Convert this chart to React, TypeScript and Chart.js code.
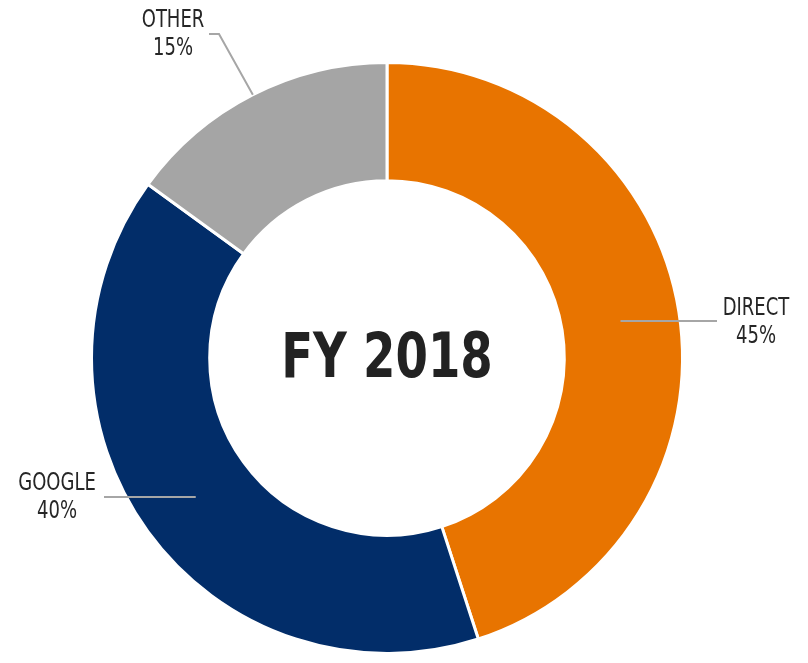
import React, { useEffect, useRef } from "react";
import { Chart, registerables } from "chart.js";

Chart.register(...registerables);

const categories = ["DIRECT", "GOOGLE", "OTHER"];
const values = [45, 40, 15];
const colors = ["#E87400", "#022D69", "#A5A5A5"];
const centerTitle = "FY 2018";

const FONT = "'DejaVu Sans', sans-serif";

// label placement: anchor on ring (fraction of ring thickness from inner), leader path, text box
const labelLayout = [
  { anchor: 0.5, path: [[717, 0]], text: [756, -12], horizontal: true },
  { anchor: 0.5, path: [[104, 0]], text: [57, -13], horizontal: true },
  { anchor: 1.0, path: [[219, 34], [209, 34]], text: [173, 21], horizontal: false },
];

function squeezedText(ctx: any, text: string, x: number, y: number, sx: number) {
  ctx.save();
  ctx.translate(x, y);
  ctx.scale(sx, 1);
  ctx.fillText(text, 0, 0);
  ctx.restore();
}

const labelPlugin = {
  id: "labelPlugin",
  afterDatasetsDraw(chart: any) {
    const ctx = chart.ctx;
    const meta = chart.getDatasetMeta(0);
    const total = values.reduce((a, b) => a + b, 0);
    ctx.save();
    meta.data.forEach((arc: any, i: number) => {
      const { x, y, startAngle, endAngle, innerRadius, outerRadius } = arc.getProps(
        ["x", "y", "startAngle", "endAngle", "innerRadius", "outerRadius"],
        true
      );
      const mid = (startAngle + endAngle) / 2;
      const L = labelLayout[i];
      const r = innerRadius + (outerRadius - innerRadius) * L.anchor;
      const ax = x + Math.cos(mid) * r;
      const ay = y + Math.sin(mid) * r;
      ctx.strokeStyle = "#A6A6A6";
      ctx.lineWidth = 2;
      ctx.beginPath();
      ctx.moveTo(ax, ay);
      let tx: number, ty: number;
      if (L.horizontal) {
        ctx.lineTo(L.path[0][0], ay);
        tx = L.text[0];
        ty = ay + L.text[1];
      } else {
        L.path.forEach((p) => ctx.lineTo(p[0], p[1]));
        tx = L.text[0];
        ty = L.text[1];
      }
      ctx.stroke();
      ctx.fillStyle = "#262626";
      ctx.font = `24px ${FONT}`;
      ctx.textAlign = "center";
      ctx.textBaseline = "middle";
      squeezedText(ctx, categories[i], tx, ty, 0.75);
      squeezedText(ctx, Math.round((values[i] / total) * 100) + "%", tx, ty + 28, 0.75);
    });
    // center title
    const a0 = meta.data[0];
    ctx.fillStyle = "#222222";
    ctx.font = `bold 63px ${FONT}`;
    ctx.textAlign = "center";
    ctx.textBaseline = "middle";
    squeezedText(ctx, centerTitle, a0.x, a0.y + 3, 0.74);
    ctx.restore();
  },
};

export default function App() {
  const ref = useRef<HTMLCanvasElement>(null);
  useEffect(() => {
    if (!ref.current) return;
    const chart = new Chart(ref.current, {
      type: "doughnut",
      data: {
        labels: categories,
        datasets: [
          {
            data: values,
            backgroundColor: colors,
            borderColor: "#FFFFFF",
            borderWidth: 3,
            hoverOffset: 0,
          },
        ],
      },
      options: {
        animation: false,
        responsive: false,
        cutout: "60%",
        layout: { padding: { top: 61, bottom: 8, left: 90, right: 124 } },
        plugins: {
          legend: { display: false },
          tooltip: { enabled: false },
        },
      },
      plugins: [labelPlugin],
    });
    return () => chart.destroy();
  }, []);
  return (
    <div style={{ position: "fixed", left: 0, top: 0, width: 808, height: 663, background: "#fff" }}>
      <canvas ref={ref} width={808} height={663} style={{ width: 808, height: 663 }} />
    </div>
  );
}
